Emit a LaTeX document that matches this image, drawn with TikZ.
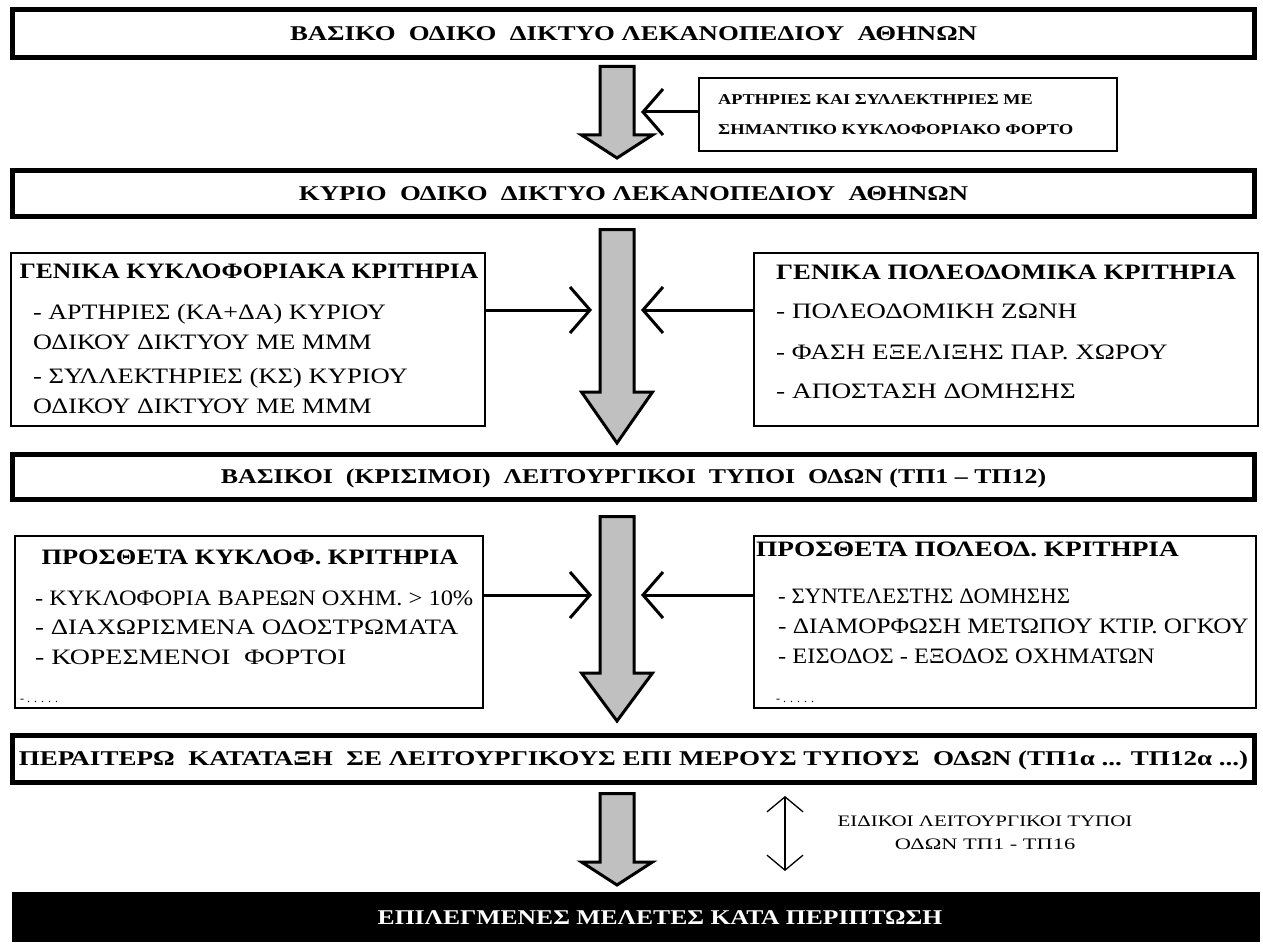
\documentclass[tikz,border=0pt]{standalone}
\usepackage{fontspec}
\usepackage{graphicx}
\setmainfont{Liberation Serif}
\usetikzlibrary{arrows.meta}
\definecolor{arrowgray}{RGB}{192,192,192}
\newcommand{\hx}[2]{\scalebox{#1}[1]{#2}}
\newcommand{\bigarr}[3]{%
  \draw[bigarrow] (600,#1) -- (600,#2) -- (581.5,#2) -- (617,#3) -- (652.5,#2) -- (634,#2) -- (634,#1) -- cycle;}
\begin{document}
\begin{tikzpicture}[x=1pt,y=-1pt,
  txt/.style={inner sep=0pt, text height=0.66em, text depth=0pt, yshift=-3.5pt},
  mainbox/.style={draw, line width=5pt, inner sep=0pt, text height=0.66em+7pt, text depth=0pt,
    font=\bfseries\fontsize{21}{25}\selectfont},
  critbox/.style={draw, line width=1.6pt, inner sep=0pt},
  crittitle/.style={txt, font=\bfseries\fontsize{22}{26}\selectfont},
  critline/.style={txt, anchor=west, font=\fontsize{22}{26}\selectfont},
  dotline/.style={txt, anchor=west, font=\fontsize{12}{14}\selectfont},
  sidetxt/.style={txt, anchor=west, font=\bfseries\fontsize{15}{17}\selectfont},
  spectxt/.style={txt, font=\fontsize{16}{19}\selectfont},
  bigarrow/.style={draw, fill=arrowgray, line width=3pt, line join=miter},
  sidearrow/.style={line width=3pt, -{Straight Barb[length=20pt,width=46pt]}},
  dblarrow/.style={line width=1.3pt, {Straight Barb[length=15pt,width=36pt]}-{Straight Barb[length=15pt,width=36pt]}}]
\useasboundingbox (0,0) rectangle (1263,944);
\fill[white] (0,0) rectangle (1263,944);

% main boxes
\node[mainbox, minimum width=1242pt, minimum height=48pt] (b1) at (633.5,33.5)
  {\hx{1.274}{ΒΑΣΙΚΟ\ \ ΟΔΙΚΟ\ \ ΔΙΚΤΥΟ ΛΕΚΑΝΟΠΕΔΙΟΥ\ \ ΑΘΗΝΩΝ}};
\node[mainbox, minimum width=1242pt, minimum height=46pt] (b2) at (633.5,193.5)
  {\hx{1.274}{ΚΥΡΙΟ\ \ ΟΔΙΚΟ\ \ ΔΙΚΤΥΟ ΛΕΚΑΝΟΠΕΔΙΟΥ\ \ ΑΘΗΝΩΝ}};
\node[mainbox, minimum width=1242pt, minimum height=45pt] (b3) at (633.5,477)
  {\hx{1.232}{ΒΑΣΙΚΟΙ\ \ (ΚΡΙΣΙΜΟΙ)\ \ ΛΕΙΤΟΥΡΓΙΚΟΙ\ \ ΤΥΠΟΙ\ \ ΟΔΩΝ (ΤΠ1 – ΤΠ12)}};
\node[mainbox, minimum width=1242pt, minimum height=47pt] (b4) at (633.5,759)
  {\hx{1.288}{ΠΕΡΑΙΤΕΡΩ\ \ ΚΑΤΑΤΑΞΗ\ \ ΣΕ ΛΕΙΤΟΥΡΓΙΚΟΥΣ ΕΠΙ ΜΕΡΟΥΣ ΤΥΠΟΥΣ\ \ ΟΔΩΝ (ΤΠ1α ... ΤΠ12α ...)}};
\node[fill=black, inner sep=0pt, minimum width=1248pt, minimum height=50pt] (b5) at (636,917) {};
\node[txt, text=white, font=\bfseries\fontsize{21}{25}\selectfont] (b5t) at (660,918)
  {\hx{1.22}{ΕΠΙΛΕΓΜΕΝΕΣ ΜΕΛΕΤΕΣ ΚΑΤΑ ΠΕΡΙΠΤΩΣΗ}};

% side box
\node[critbox, minimum width=418.5pt, minimum height=73.5pt] (side) at (908,114.5) {};
\node[sidetxt] (s1) at (718,98) {\hx{1.217}{ΑΡΤΗΡΙΕΣ ΚΑΙ ΣΥΛΛΕΚΤΗΡΙΕΣ ΜΕ}};
\node[sidetxt] (s2) at (718,128) {\hx{1.24}{ΣΗΜΑΝΤΙΚΟ ΚΥΚΛΟΦΟΡΙΑΚΟ ΦΟΡΤΟ}};

% criteria boxes
\node[critbox, minimum width=474.5pt, minimum height=173.5pt] (gk) at (248,339.5) {};
\node[crittitle] (gkt) at (249,272) {\hx{1.165}{ΓΕΝΙΚΑ ΚΥΚΛΟΦΟΡΙΑΚΑ ΚΡΙΤΗΡΙΑ}};
\node[critline] (gk1) at (33,313) {\hx{1.184}{- ΑΡΤΗΡΙΕΣ (ΚΑ+ΔΑ) ΚΥΡΙΟΥ}};
\node[critline] (gk2) at (33,343) {\hx{1.19}{ΟΔΙΚΟΥ ΔΙΚΤΥΟΥ ΜΕ ΜΜΜ}};
\node[critline] (gk3) at (33,377) {\hx{1.21}{- ΣΥΛΛΕΚΤΗΡΙΕΣ (ΚΣ) ΚΥΡΙΟΥ}};
\node[critline] (gk4) at (33,407) {\hx{1.19}{ΟΔΙΚΟΥ ΔΙΚΤΥΟΥ ΜΕ ΜΜΜ}};

\node[critbox, minimum width=504.5pt, minimum height=173.5pt] (gp) at (1006,339.5) {};
\node[crittitle] (gpt) at (1006,273) {\hx{1.216}{ΓΕΝΙΚΑ ΠΟΛΕΟΔΟΜΙΚΑ ΚΡΙΤΗΡΙΑ}};
\node[critline] (gp1) at (776,312) {\hx{1.236}{- ΠΟΛΕΟΔΟΜΙΚΗ ΖΩΝΗ}};
\node[critline] (gp2) at (776,353) {\hx{1.23}{- ΦΑΣΗ ΕΞΕΛΙΞΗΣ ΠΑΡ. ΧΩΡΟΥ}};
\node[critline] (gp3) at (776,392) {\hx{1.24}{- ΑΠΟΣΤΑΣΗ ΔΟΜΗΣΗΣ}};

\node[critbox, minimum width=468.5pt, minimum height=172.5pt] (pk) at (249,622) {};
\node[crittitle] (pkt) at (250,558) {\hx{1.20}{ΠΡΟΣΘΕΤΑ ΚΥΚΛΟΦ. ΚΡΙΤΗΡΙΑ}};
\node[critline] (pk1) at (35,599) {\hx{1.11}{- ΚΥΚΛΟΦΟΡΙΑ ΒΑΡΕΩΝ ΟΧΗΜ. > 10\%}};
\node[critline] (pk2) at (35,628) {\hx{1.225}{- ΔΙΑΧΩΡΙΣΜΕΝΑ ΟΔΟΣΤΡΩΜΑΤΑ}};
\node[critline] (pk3) at (35,658) {\hx{1.27}{- ΚΟΡΕΣΜΕΝΟΙ\ \ ΦΟΡΤΟΙ}};
\node[dotline] (pk4) at (20,696) {- . . . . .};

\node[critbox, minimum width=502.5pt, minimum height=172.5pt] (pp) at (1005,622) {};
\node[crittitle, anchor=west] (ppt) at (756,550) {\hx{1.24}{ΠΡΟΣΘΕΤΑ ΠΟΛΕΟΔ. ΚΡΙΤΗΡΙΑ}};
\node[critline] (pp1) at (778,597) {\hx{1.04}{- ΣΥΝΤΕΛΕΣΤΗΣ ΔΟΜΗΣΗΣ}};
\node[critline] (pp2) at (778,627) {\hx{1.15}{- ΔΙΑΜΟΡΦΩΣΗ ΜΕΤΩΠΟΥ ΚΤΙΡ. ΟΓΚΟΥ}};
\node[critline] (pp3) at (778,657) {\hx{1.11}{- ΕΙΣΟΔΟΣ - ΕΞΟΔΟΣ ΟΧΗΜΑΤΩΝ}};
\node[dotline] (pp4) at (776,696) {- . . . . .};

% big arrows
\bigarr{66.5}{135}{158}
\bigarr{229.5}{392}{443}
\bigarr{516.5}{673}{721}
\bigarr{793.5}{862}{885}

% side arrows
\coordinate (t1) at (641,112);
\coordinate (t2) at (592,310);
\coordinate (t3) at (641,310);
\coordinate (t4) at (592,595);
\coordinate (t5) at (641,595);
\draw[sidearrow] (side.west |- t1) -- (t1);
\draw[sidearrow] (gk.east |- t2) -- (t2);
\draw[sidearrow] (gp.west |- t3) -- (t3);
\draw[sidearrow] (pk.east |- t4) -- (t4);
\draw[sidearrow] (pp.west |- t5) -- (t5);

% special types
\coordinate (d1) at (785,796);
\coordinate (d2) at (785,871);
\draw[dblarrow] (d1) -- (d2);
\node[spectxt] (sp1) at (985,820) {\hx{1.31}{ΕΙΔΙΚΟΙ ΛΕΙΤΟΥΡΓΙΚΟΙ ΤΥΠΟΙ}};
\node[spectxt] (sp2) at (985,843) {\hx{1.4}{ΟΔΩΝ ΤΠ1 - ΤΠ16}};
\end{tikzpicture}
\end{document}
